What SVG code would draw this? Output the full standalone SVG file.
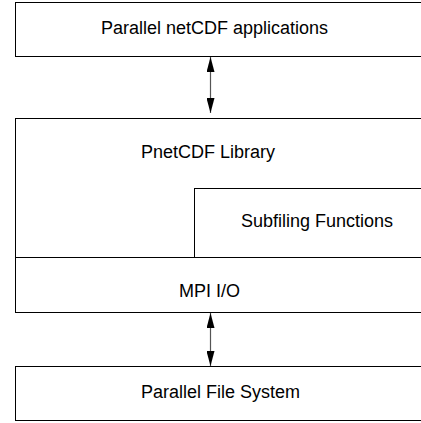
<svg xmlns="http://www.w3.org/2000/svg" width="421" height="423" viewBox="0 0 421 423">
<defs>
<style>
.box{fill:#fff;stroke:#000;stroke-width:1}
.lbl{font-family:"Liberation Sans",Arial,sans-serif;font-size:18px;fill:#000}
.conn{stroke:#555;stroke-width:1.2;fill:none}
</style>
<marker id="ah" viewBox="0 0 15 8" refX="15" refY="4" markerWidth="15" markerHeight="8" markerUnits="userSpaceOnUse" orient="auto-start-reverse">
<path d="M0,0 L15,4 L0,8 Z" fill="#000"/>
</marker>
</defs>
<rect width="421" height="423" fill="#fff"/>
<g id="apps">
<rect class="box" x="15.5" y="2.5" width="430" height="54"/>
<text class="lbl" x="101" y="34">Parallel netCDF applications</text>
</g>
<g id="pnetcdf">
<rect class="box" x="15.5" y="118.5" width="430" height="139"/>
<text class="lbl" x="141" y="158">PnetCDF Library</text>
</g>
<g id="subfiling">
<rect class="box" x="194.5" y="188.5" width="250" height="69"/>
<text class="lbl" x="241" y="227">Subfiling Functions</text>
</g>
<g id="mpiio">
<rect class="box" x="15.5" y="257.5" width="430" height="55"/>
<text class="lbl" x="179" y="297">MPI I/O</text>
</g>
<g id="pfs">
<rect class="box" x="15.5" y="366.5" width="430" height="54"/>
<text class="lbl" x="141" y="398">Parallel File System</text>
</g>
<g id="connectors">
<line class="conn" x1="210.5" y1="57" x2="210.5" y2="113" marker-start="url(#ah)" marker-end="url(#ah)"/>
<line class="conn" x1="210.5" y1="313" x2="210.5" y2="366" marker-start="url(#ah)" marker-end="url(#ah)"/>
</g>
</svg>
